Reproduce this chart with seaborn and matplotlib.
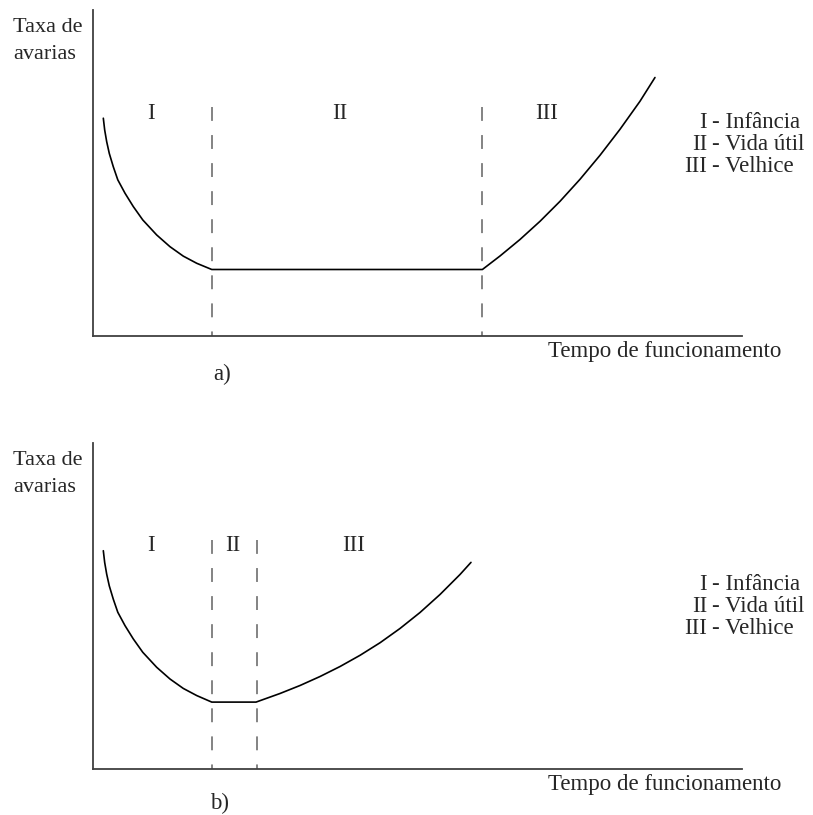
import numpy as np
import pandas as pd
import matplotlib
matplotlib.use("Agg")
import matplotlib.pyplot as plt
import seaborn as sns

# curve readings, time and failure rate in arbitrary units (0..100 on each axis)
time_a = [1.59, 1.80, 2.11, 2.51, 3.13, 3.82, 4.93, 6.21, 7.67, 9.81, 11.86, 13.91,
          15.99, 18.3, 60.0, 62.71, 65.79, 68.88, 71.96, 75.04, 78.12, 81.20, 84.28, 86.59]
rate_a = [66.8, 63.2, 59.6, 56.0, 51.9, 47.9, 43.8, 39.7, 35.6, 31.0, 27.4, 24.5,
          22.3, 20.4, 20.4, 24.54, 29.60, 35.19, 41.32, 48.07, 55.43, 63.40, 72.00, 79.29]
bounds_a = [18.3, 60.0]

time_b = [1.59, 1.80, 2.11, 2.51, 3.13, 3.82, 4.93, 6.21, 7.67, 9.81, 11.86, 13.91,
          15.99, 18.3, 25.12, 28.81, 31.90, 34.98, 38.07, 41.15, 44.24, 47.30, 50.39,
          53.47, 56.55, 58.24]
rate_b = [66.9, 63.3, 59.7, 56.1, 52.0, 48.0, 43.9, 39.8, 35.7, 31.1, 27.5, 24.6,
          22.4, 20.4, 20.4, 23.04, 25.50, 28.26, 31.34, 34.78, 38.65, 43.01, 47.93,
          53.46, 59.60, 63.32]
bounds_b = [18.3, 25.2]
bound_top = 70.2

phases = ["I", "II", "III"]
phase_names = ["Infância", "Vida útil", "Velhice"]
ylabel = "Taxa de\navarias"
xlabel = "Tempo de funcionamento"
panel_tags = ["a)", "b)"]

sns.set_style("white")
plt.rcParams["font.family"] = ["Liberation Serif", "DejaVu Serif"]
plt.rcParams["lines.scale_dashes"] = False

W, H = 813, 815
fig = plt.figure(figsize=(W / 100, H / 100), dpi=100)


def px(x, y):
    return x / W, 1 - y / H


def panel(top_px, bottom_px, time, rate, bounds, label_x, label_y, legend_y, tag, tag_xy):
    left, right = 93, 742
    ax = fig.add_axes([left / W, 1 - bottom_px / H, (right - left) / W, (bottom_px - top_px) / H])
    ax.set_xlim(0, 100)
    ax.set_ylim(0, 100)
    df = pd.DataFrame({"t": time, "r": rate})
    sns.lineplot(data=df, x="t", y="r", sort=False, estimator=None, color="black",
                 linewidth=1.2, ax=ax)
    for b in bounds:
        # drawn top-down so the dash pattern starts at the top
        ax.plot([b, b], [bound_top, 0], color="#6e6e6e", linewidth=1.2, dashes=(10, 10.2),
                clip_on=False)
    sns.despine(ax=ax)
    for s in ["left", "bottom"]:
        ax.spines[s].set_color("#404040")
        ax.spines[s].set_linewidth(1.3)
    ax.set_xticks([])
    ax.set_yticks([])
    ax.set_xlabel("")
    ax.set_ylabel("")
    for name, x in zip(phases, label_x):
        ax.text(x, label_y, name, ha="center", va="center", fontsize=16.5)
    # side legend
    for i, (p, n) in enumerate(zip(phases, phase_names)):
        y = legend_y + i * 22
        fig.text(*px(707, y), p, ha="right", va="center", fontsize=16.5)
        fig.text(*px(712, y), "- " + n, ha="left", va="center", fontsize=16.5)
    fig.text(*px(13, top_px + 31), ylabel, ha="left", va="center", fontsize=16,
             linespacing=1.55)
    fig.text(*px(548, bottom_px + 16), xlabel, ha="left", va="center", fontsize=16.5)
    fig.text(*px(*tag_xy), tag, ha="center", va="center", fontsize=16.5)
    return ax


panel(10, 336, time_a, rate_a, bounds_a, [9.0, 38.1, 69.9], 68.4, 123, panel_tags[0], (222, 374))
panel(443, 768.5, time_b, rate_b, bounds_b, [8.9, 21.6, 40.2], 68.4, 584, panel_tags[1], (220, 803))

fig.savefig("out.png", dpi=100)
